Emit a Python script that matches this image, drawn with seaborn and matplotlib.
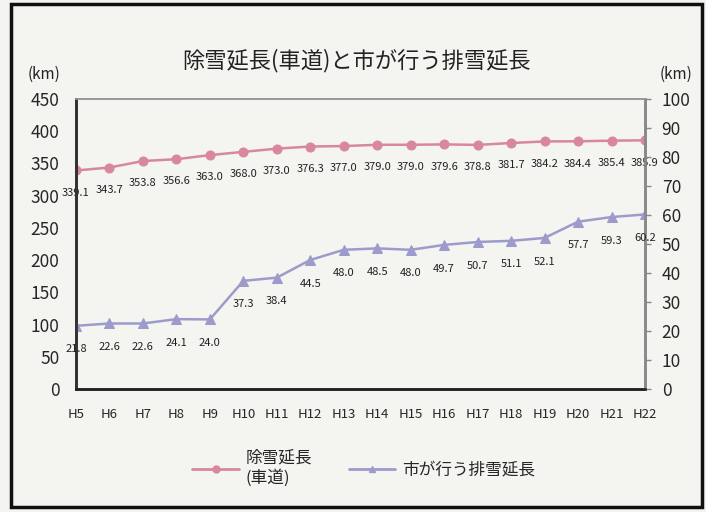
import matplotlib
matplotlib.use("Agg")
import matplotlib.pyplot as plt
import matplotlib.patches as patches
from matplotlib.lines import Line2D
import seaborn as sns
import pandas as pd

# data
years = ["H5", "H6", "H7", "H8", "H9", "H10", "H11", "H12", "H13", "H14",
         "H15", "H16", "H17", "H18", "H19", "H20", "H21", "H22"]
snow_removal = [339.1, 343.7, 353.8, 356.6, 363.0, 368.0, 373.0, 376.3, 377.0,
                379.0, 379.0, 379.6, 378.8, 381.7, 384.2, 384.4, 385.4, 385.9]
snow_hauling = [21.8, 22.6, 22.6, 24.1, 24.0, 37.3, 38.4, 44.5, 48.0,
                48.5, 48.0, 49.7, 50.7, 51.1, 52.1, 57.7, 59.3, 60.2]
left_ticks = [0, 50, 100, 150, 200, 250, 300, 350, 400, 450]
right_ticks = [0, 10, 20, 30, 40, 50, 60, 70, 80, 90, 100]

title = "除雪延長(車道)と市が行う排雪延長"
label_removal = "除雪延長\n(車道)"
label_hauling = "市が行う排雪延長"

pink = "#d9879f"
lavender = "#9d9bcc"
bg = "#f4f4f0"

sns.set_theme(style="white")
plt.rcParams["font.family"] = ["Noto Sans CJK JP", "DejaVu Sans"]

df = pd.DataFrame({"year": years, "removal": snow_removal, "hauling": snow_hauling})
df["pos"] = range(len(years))

fig = plt.figure(figsize=(7.06, 5.12), dpi=100, facecolor=bg)
ax = fig.add_axes([0.1076, 0.2402, 0.806, 0.5664])
ax.set_facecolor(bg)
ax2 = ax.twinx()

sns.lineplot(data=df, x="pos", y="removal", ax=ax, color=pink, lw=1.8,
             marker="o", markersize=6.5, markeredgecolor=pink, sort=False)
sns.lineplot(data=df, x="pos", y="hauling", ax=ax2, color=lavender, lw=1.8,
             marker="^", markersize=6.5, markeredgecolor=lavender, sort=False)

for x, v in zip(df["pos"], df["removal"]):
    ax.annotate(f"{v:.1f}", (x, v), xytext=(0, -16), textcoords="offset points",
                ha="center", va="center", fontsize=8, color="#222222")
for x, v in zip(df["pos"], df["hauling"]):
    ax2.annotate(f"{v:.1f}", (x, v), xytext=(0, -17), textcoords="offset points",
                 ha="center", va="center", fontsize=8, color="#222222")

ax.set_xlim(0, len(years) - 1)
ax.set_ylim(0, 450)
ax2.set_ylim(0, 100)
ax.set_xticks(df["pos"])
ax.set_xticklabels(years, fontsize=9.5)
ax.set_yticks(left_ticks)
ax.set_yticklabels([str(t) for t in left_ticks], fontsize=12.5)
ax2.set_yticks(right_ticks)
ax2.set_yticklabels([str(t) for t in right_ticks], fontsize=12.5)
ax.set_xlabel("")
ax.set_ylabel("")
ax2.set_ylabel("")

ax.tick_params(axis="x", direction="in", length=5, width=1, color="#333333", pad=14)
ax.tick_params(axis="y", length=0, pad=12)
ax2.tick_params(axis="y", direction="out", length=4, width=1, color="#888888", pad=8)

for a in (ax, ax2):
    a.spines["left"].set_color("#333333")
    a.spines["left"].set_linewidth(2)
    a.spines["bottom"].set_color("#222222")
    a.spines["bottom"].set_linewidth(1.8)
    a.spines["top"].set_color("#999999")
    a.spines["top"].set_linewidth(1.2)
    a.spines["right"].set_color("#888888")
    a.spines["right"].set_linewidth(1.8)

fig.text(0.505, 0.882, title, ha="center", va="center", fontsize=16, color="#222222")
fig.text(0.062, 0.855, "(km)", ha="center", va="center", fontsize=11, color="#222222")
fig.text(0.958, 0.855, "(km)", ha="center", va="center", fontsize=11, color="#222222")

handles = [Line2D([], [], color=pink, lw=2, marker="o", markersize=5),
           Line2D([], [], color=lavender, lw=2, marker="^", markersize=5)]
fig.legend(handles, [label_removal, label_hauling], loc="center",
           bbox_to_anchor=(0.515, 0.085), ncol=2, frameon=False, fontsize=12,
           handlelength=2.8, handletextpad=0.4, columnspacing=2.2)

# scanned page border
fig.patches.append(patches.Rectangle((0.015, 0.01), 0.98, 0.982, transform=fig.transFigure,
                                     fill=False, edgecolor="#111111", lw=2.5))

fig.savefig("out.png", dpi=100, facecolor=bg)
